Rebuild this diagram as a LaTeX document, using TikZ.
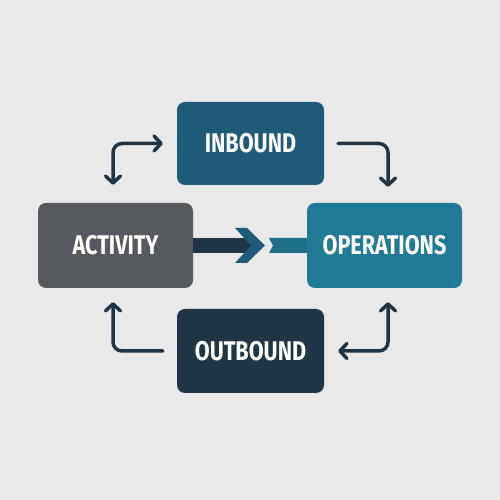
\documentclass[tikz,border=0pt]{standalone}
\usepackage{fontspec}
\setmainfont{Fira Sans}[FakeStretch=0.8]
\usetikzlibrary{arrows.meta}
\definecolor{fondo}{RGB}{233,233,233}
\definecolor{cinbound}{RGB}{31,90,120}
\definecolor{cactivity}{RGB}{86,89,94}
\definecolor{coperations}{RGB}{32,122,150}
\definecolor{coutbound}{RGB}{32,53,69}
\definecolor{cflecha}{RGB}{33,52,68}
\definecolor{cbarra}{RGB}{31,110,138}
\tikzset{
  caja/.style={rounded corners=8pt, text=white, font=\bfseries\fontsize{27}{27}\selectfont, inner sep=0pt},
  flecha/.style={draw=cflecha, line width=3.5pt, line cap=round, line join=round, rounded corners=9pt,
    arrows={-Straight Barb[length=7pt,width=15pt,round]}},
}
\begin{document}
\begin{tikzpicture}[x=1pt,y=1pt]
        \fill[fondo] (0,0) rectangle (500,500);
        \useasboundingbox (0,0) rectangle (500,500);
        % Cajas
        \node[caja, fill=cinbound, minimum width=147pt, minimum height=83pt] (inb) at (250.5,356.5) {INBOUND};
        \node[caja, fill=cactivity, minimum width=155pt, minimum height=85pt] (act) at (115.5,254.5) {ACTIVITY};
        \node[caja, fill=coperations, minimum width=155pt, minimum height=85pt] (ops) at (384.5,254.5) {OPERATIONS};
        \node[caja, fill=coutbound, minimum width=147pt, minimum height=84pt] (outb) at (250.5,149) {OUTBOUND};
        % Flecha central
        \fill[coutbound] (act.east) ++(0,-7.5) rectangle (251,262);
        \fill[cinbound] (235,272) -- (247,272) -- (265,254.5) -- (247,237) -- (235,237) -- (251,254.5) -- cycle;
        \fill[cbarra] (269,262) -- (ops.west |- 0,262) -- (ops.west |- 0,247) -- (269,247) -- (273,254.5) -- cycle;
        % Flechas de las esquinas
        \draw[flecha, {Straight Barb[length=7pt,width=15pt,round]}-{Straight Barb[length=7pt,width=15pt,round]},
          shorten <=18pt, shorten >=14pt] ([xshift=-2.5pt]act.north) |- (inb.west);
        \draw[flecha, shorten <=14pt, shorten >=16pt] (inb.east) -| ([xshift=3.5pt]ops.north);
        \draw[flecha, {Straight Barb[length=7pt,width=15pt,round]}-{Straight Barb[length=7pt,width=15pt,round]},
          shorten <=14pt, shorten >=14pt] ([xshift=3.5pt]ops.south) |- (outb.east);
        \draw[flecha, shorten <=14pt, shorten >=14pt] (outb.west) -| ([xshift=-2.5pt]act.south);
    \end{tikzpicture}
\end{document}
